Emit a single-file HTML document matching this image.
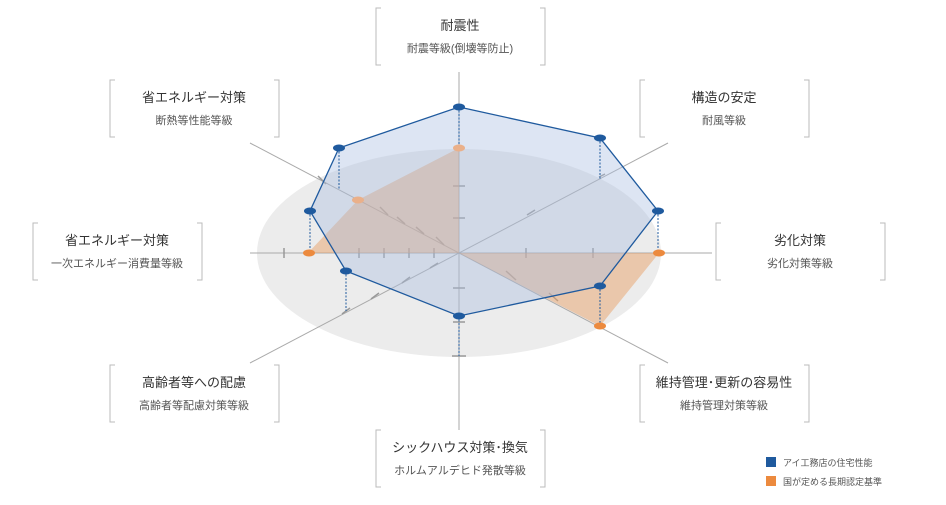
<!DOCTYPE html>
<html><head><meta charset="utf-8"><style>
html,body{margin:0;padding:0;background:#fff;}
svg{display:block;font-family:"Liberation Sans","Noto Sans CJK JP",sans-serif;}
.t{font-size:13px;fill:#333;text-anchor:middle;}
.s{font-size:11px;fill:#555;text-anchor:middle;}
.br{fill:none;stroke:#bbb;stroke-width:1;}
.ax{stroke:#aaa;stroke-width:1;}
.tk{stroke:#999;stroke-width:1.5;}
.dd{stroke:#1f5a9e;stroke-width:1;stroke-dasharray:2,1.5;}
</style></head><body>
<svg width="946" height="505" viewBox="0 0 946 505">
<defs>
<g id="b"><path class="br" d="M5,0 H0 V57 H5 M164,0 H169 V57 H164"/></g>
</defs>
<ellipse cx="459" cy="253" rx="202" ry="104" fill="#ececec"/>
<!-- axes -->
<line class="ax" x1="459" y1="72" x2="459" y2="430"/>
<line class="ax" x1="250" y1="253" x2="712" y2="253"/>
<line class="ax" x1="250" y1="363" x2="668" y2="143"/>
<line class="ax" x1="250" y1="143" x2="668" y2="363"/>
<!-- ticks -->
<g class="tk">
<line x1="453" y1="186" x2="465" y2="186"/><line x1="453" y1="218" x2="465" y2="218"/><line x1="453" y1="288" x2="465" y2="288"/>
<line x1="453" y1="322" x2="465" y2="322"/><line x1="452" y1="356" x2="466" y2="356"/>
<line x1="284" y1="248" x2="284" y2="258"/><line x1="359" y1="248" x2="359" y2="258"/><line x1="384" y1="248" x2="384" y2="258"/><line x1="409" y1="248" x2="409" y2="258"/><line x1="434" y1="248" x2="434" y2="258"/>
<line x1="526" y1="248" x2="526" y2="258"/><line x1="593" y1="248" x2="593" y2="258"/>
<line x1="318" y1="176" x2="326" y2="184"/><line x1="380" y1="207" x2="388" y2="215"/><line x1="397" y1="217" x2="405" y2="224"/><line x1="416" y1="227" x2="424" y2="234"/><line x1="436" y1="237" x2="444" y2="245"/>
<line x1="506" y1="271" x2="516" y2="280"/><line x1="549" y1="293" x2="558" y2="301"/>
<line x1="527" y1="215" x2="535" y2="210"/><line x1="599" y1="177" x2="605" y2="174"/>
<line x1="430" y1="268" x2="438" y2="263"/><line x1="402" y1="283" x2="410" y2="277"/><line x1="371" y1="299" x2="379" y2="293"/><line x1="342" y1="314" x2="350" y2="308"/>
</g>
<!-- orange -->
<polygon points="459,148 358,200 308,253 459,253 600,326 659,253 459,253" fill="#e8a26a" fill-opacity="0.5"/>
<!-- blue -->
<polygon points="459,107 600,138 658,211 600,286 459,316 346,271 310,211 339,148" fill="#a9bfe0" fill-opacity="0.4" stroke="#1f5a9e" stroke-width="1.3"/>
<g class="dd">
<line x1="459" y1="107" x2="459" y2="148"/><line x1="600" y1="138" x2="600" y2="179"/><line x1="658" y1="211" x2="658" y2="253"/>
<line x1="600" y1="286" x2="600" y2="326"/><line x1="459" y1="316" x2="459" y2="356"/><line x1="346" y1="271" x2="346" y2="311"/>
<line x1="310" y1="211" x2="310" y2="253"/><line x1="339" y1="148" x2="339" y2="189"/>
</g>
<g fill="#e8a26a">
<ellipse cx="459" cy="148" rx="6" ry="3.5" fill="#eab08a"/><ellipse cx="358" cy="200" rx="6" ry="3.5" fill="#eab08a"/>
<ellipse cx="309" cy="253" rx="6" ry="3.5" fill="#ec8a3e"/><ellipse cx="659" cy="253" rx="6" ry="3.5" fill="#ec8a3e"/><ellipse cx="600" cy="326" rx="6" ry="3.5" fill="#ec8a3e"/>
</g>
<g fill="#1f5a9e">
<ellipse cx="459" cy="107" rx="6" ry="3.5"/><ellipse cx="600" cy="138" rx="6" ry="3.5"/><ellipse cx="658" cy="211" rx="6" ry="3.5"/><ellipse cx="600" cy="286" rx="6" ry="3.5"/>
<ellipse cx="459" cy="316" rx="6" ry="3.5"/><ellipse cx="346" cy="271" rx="6" ry="3.5"/><ellipse cx="310" cy="211" rx="6" ry="3.5"/><ellipse cx="339" cy="148" rx="6" ry="3.5"/>
</g>
<!-- label boxes -->
<use href="#b" x="376" y="8"/><text class="t" x="460" y="30">耐震性</text><text class="s" x="460" y="52">耐震等級(倒壊等防止)</text>
<use href="#b" x="110" y="80"/><text class="t" x="194" y="102">省エネルギー対策</text><text class="s" x="194" y="124">断熱等性能等級</text>
<use href="#b" x="640" y="80"/><text class="t" x="724" y="102">構造の安定</text><text class="s" x="724" y="124">耐風等級</text>
<use href="#b" x="33" y="223"/><text class="t" x="117" y="245">省エネルギー対策</text><text class="s" x="117" y="267">一次エネルギー消費量等級</text>
<use href="#b" x="716" y="223"/><text class="t" x="800" y="245">劣化対策</text><text class="s" x="800" y="267">劣化対策等級</text>
<use href="#b" x="110" y="365"/><text class="t" x="194" y="387">高齢者等への配慮</text><text class="s" x="194" y="409">高齢者等配慮対策等級</text>
<use href="#b" x="640" y="365"/><text class="t" x="724" y="387">維持管理･更新の容易性</text><text class="s" x="724" y="409">維持管理対策等級</text>
<use href="#b" x="376" y="430"/><text class="t" x="460" y="452">シックハウス対策･換気</text><text class="s" x="460" y="474">ホルムアルデヒド発散等級</text>
<!-- legend -->
<rect x="766" y="457" width="10" height="10" fill="#1f5a9e"/>
<text x="783" y="466" font-size="9" fill="#555">アイ工務店の住宅性能</text>
<rect x="766" y="476" width="10" height="10" fill="#ec8a3e"/>
<text x="783" y="485" font-size="9" fill="#555">国が定める長期認定基準</text>
</svg>
</body></html>
